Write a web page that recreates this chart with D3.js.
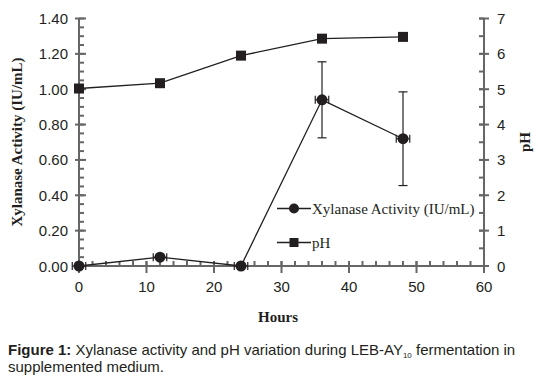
<!DOCTYPE html>
<html><head><meta charset="utf-8">
<script src="https://cdn.jsdelivr.net/npm/d3@7"></script>
<style>body{margin:0;background:#fff}svg{display:block}</style>
</head><body>
<svg id="c" width="538" height="385"></svg>
<script>
const hours = [0, 12, 24, 36, 48];
const xylanase = [0.00, 0.05, 0.00, 0.94, 0.72];
const xylanaseErr = [0.00, 0.00, 0.00, 0.215, 0.265];
const hoursErr = [1, 1, 1, 1, 1];
const pH = [5.02, 5.17, 5.95, 6.43, 6.48];
const xTicks = [0, 10, 20, 30, 40, 50, 60];
const yLeftTicks = [0, 0.2, 0.4, 0.6, 0.8, 1.0, 1.2, 1.4];
const yRightTicks = [0, 1, 2, 3, 4, 5, 6, 7];

const svg = d3.select("#c");
const L = 79, R = 484, T = 18.5, B = 266;
const x = d3.scaleLinear().domain([0, 60]).range([L, R]);
const yL = d3.scaleLinear().domain([0, 1.4]).range([B, T]);
const yR = d3.scaleLinear().domain([0, 7]).range([B, T]);
const axisColor = "#666";
const ink = "#231f20";

// axes lines
const g = svg.append("g");
g.append("line").attr("x1", L).attr("x2", R).attr("y1", B).attr("y2", B).attr("stroke", axisColor).attr("stroke-width", 2);
g.append("line").attr("x1", L).attr("x2", L).attr("y1", T).attr("y2", B).attr("stroke", axisColor).attr("stroke-width", 2);
g.append("line").attr("x1", R).attr("x2", R).attr("y1", T).attr("y2", B).attr("stroke", axisColor).attr("stroke-width", 2);

// minor ticks
const xMinor = d3.range(0, 61, 2);
g.selectAll(".xm").data(xMinor).join("line")
  .attr("x1", d => x(d)).attr("x2", d => x(d)).attr("y1", B - 5).attr("y2", B)
  .attr("stroke", axisColor).attr("stroke-width", 2);
const ylMinor = d3.range(0, 1.401, 0.05);
g.selectAll(".ylm").data(ylMinor).join("line")
  .attr("x1", L).attr("x2", L + 5).attr("y1", d => yL(d)).attr("y2", d => yL(d))
  .attr("stroke", axisColor).attr("stroke-width", 2);
const yrMinor = d3.range(0, 7.01, 0.5);
g.selectAll(".yrm").data(yrMinor).join("line")
  .attr("x1", R - 5).attr("x2", R).attr("y1", d => yR(d)).attr("y2", d => yR(d))
  .attr("stroke", axisColor).attr("stroke-width", 2);

// major ticks
g.selectAll(".xM").data(xTicks).join("line")
  .attr("x1", d => x(d)).attr("x2", d => x(d)).attr("y1", B - 5).attr("y2", B + 7)
  .attr("stroke", axisColor).attr("stroke-width", 2);
g.selectAll(".ylM").data(yLeftTicks).join("line")
  .attr("x1", L - 4).attr("x2", L + 7).attr("y1", d => yL(d)).attr("y2", d => yL(d))
  .attr("stroke", axisColor).attr("stroke-width", 2);
g.selectAll(".yrM").data(yRightTicks).join("line")
  .attr("x1", R - 5).attr("x2", R + 5).attr("y1", d => yR(d)).attr("y2", d => yR(d))
  .attr("stroke", axisColor).attr("stroke-width", 2);

// tick labels
const tf = "Arial, 'Liberation Sans', sans-serif";
g.selectAll(".xl").data(xTicks).join("text")
  .attr("x", d => x(d)).attr("y", 292).attr("text-anchor", "middle")
  .attr("font-family", tf).attr("font-size", 15).attr("fill", ink).text(d => d);
g.selectAll(".yll").data(yLeftTicks).join("text")
  .attr("x", 68).attr("y", d => yL(d) + 5.5).attr("text-anchor", "end")
  .attr("font-family", tf).attr("font-size", 15).attr("fill", ink).text(d => d3.format(".2f")(d));
g.selectAll(".yrl").data(yRightTicks).join("text")
  .attr("x", 497).attr("y", d => yR(d) + 5.5).attr("text-anchor", "start")
  .attr("font-family", tf).attr("font-size", 15).attr("fill", ink).text(d => d);

// axis titles
const sf = "'Times New Roman', 'Liberation Serif', serif";
svg.append("text").attr("transform", "translate(22,142) rotate(-90)").attr("text-anchor", "middle")
  .attr("font-family", sf).attr("font-weight", "bold").attr("font-size", 15).attr("fill", ink)
  .text("Xylanase Activity (IU/mL)");
svg.append("text").attr("transform", "translate(530,142) rotate(-90)").attr("text-anchor", "middle")
  .attr("font-family", sf).attr("font-weight", "bold").attr("font-size", 15).attr("fill", ink)
  .text("pH");
svg.append("text").attr("x", 278).attr("y", 322).attr("text-anchor", "middle")
  .attr("font-family", sf).attr("font-weight", "bold").attr("font-size", 15).attr("fill", ink)
  .text("Hours");

// pH series
const pts = hours.map((h, i) => ({h, xy: xylanase[i], e: xylanaseErr[i], he: hoursErr[i], p: pH[i]}));
svg.append("path").datum(pts)
  .attr("d", d3.line().x(d => x(d.h)).y(d => yR(d.p)))
  .attr("fill", "none").attr("stroke", ink).attr("stroke-width", 1.3);
svg.selectAll(".sq").data(pts).join("rect")
  .attr("x", d => x(d.h) - 5).attr("y", d => yR(d.p) - 5).attr("width", 10).attr("height", 10)
  .attr("fill", ink);

// xylanase series
svg.append("path").datum(pts)
  .attr("d", d3.line().x(d => x(d.h)).y(d => yL(d.xy)))
  .attr("fill", "none").attr("stroke", ink).attr("stroke-width", 1.3);
const eb = svg.append("g").attr("stroke", ink).attr("stroke-width", 1.2);
pts.forEach(d => {
  const cx = x(d.h), cy = yL(d.xy);
  if (d.e > 0) {
    const y1 = yL(d.xy + d.e), y2 = yL(d.xy - d.e);
    eb.append("line").attr("x1", cx).attr("x2", cx).attr("y1", y1).attr("y2", y2);
    eb.append("line").attr("x1", cx - 4.5).attr("x2", cx + 4.5).attr("y1", y1).attr("y2", y1);
    eb.append("line").attr("x1", cx - 4.5).attr("x2", cx + 4.5).attr("y1", y2).attr("y2", y2);
  }
  const x1 = x(d.h - d.he), x2 = x(d.h + d.he);
  eb.append("line").attr("x1", x1).attr("x2", x2).attr("y1", cy).attr("y2", cy);
  eb.append("line").attr("x1", x1).attr("x2", x1).attr("y1", cy - 4).attr("y2", cy + 4);
  eb.append("line").attr("x1", x2).attr("x2", x2).attr("y1", cy - 4).attr("y2", cy + 4);
});
svg.selectAll(".ci").data(pts).join("circle")
  .attr("cx", d => x(d.h)).attr("cy", d => yL(d.xy)).attr("r", 5.5).attr("fill", ink);

// legend
const leg = svg.append("g");
const legItems = [{label: "Xylanase Activity (IU/mL)", shape: "circle", y: 208.5}, {label: "pH", shape: "square", y: 242.5}];
legItems.forEach(it => {
  leg.append("line").attr("x1", 277).attr("x2", 311).attr("y1", it.y).attr("y2", it.y).attr("stroke", ink).attr("stroke-width", 1.5);
  if (it.shape === "circle") leg.append("circle").attr("cx", 294).attr("cy", it.y).attr("r", 5).attr("fill", ink);
  else leg.append("rect").attr("x", 289.5).attr("y", it.y - 4.5).attr("width", 9).attr("height", 9).attr("fill", ink);
  leg.append("text").attr("x", 312).attr("y", it.y + 5).attr("font-family", sf).attr("font-size", 15).attr("fill", ink).text(it.label);
});

// caption
const cap = svg.append("text").attr("font-family", tf).attr("font-size", 15).attr("fill", "#231f20");
const l1 = cap.append("tspan").attr("x", 8).attr("y", 355);
l1.append("tspan").attr("font-weight", "bold").text("Figure 1:");
l1.append("tspan").text(" Xylanase activity and pH variation during LEB-AY");
l1.append("tspan").attr("font-size", 8).attr("dy", 3).text("10");
l1.append("tspan").attr("dy", -3).text(" fermentation in");
cap.append("tspan").attr("x", 8).attr("y", 372).text("supplemented medium.");
</script>
</body></html>
